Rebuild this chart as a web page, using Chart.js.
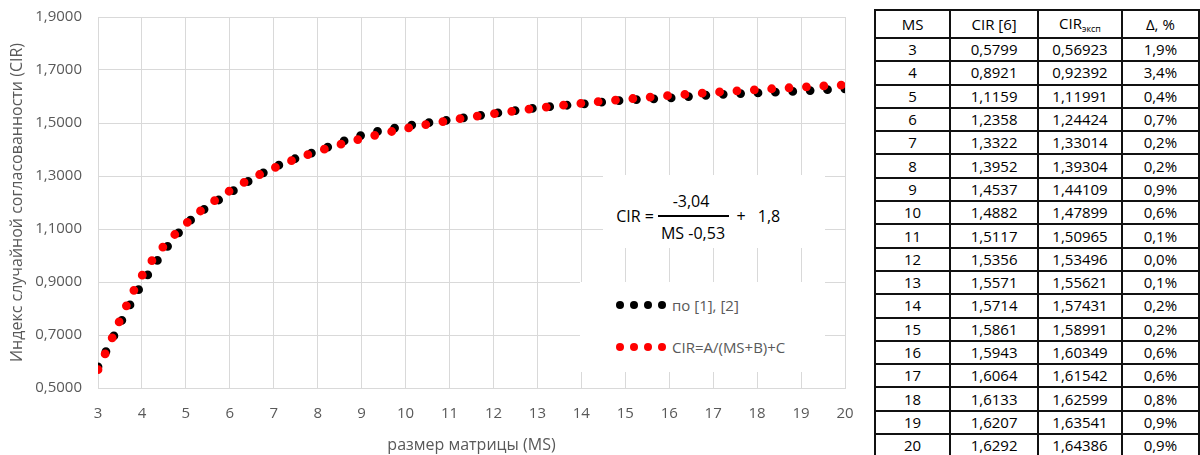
<!DOCTYPE html>
<html>
<head>
<meta charset="utf-8">
<script src="https://cdn.jsdelivr.net/npm/chart.js@4"></script>
<style>
  html, body { margin: 0; padding: 0; background: #fff; }
  body { width: 1200px; height: 455px; position: relative; overflow: hidden; font-family: "Open Sans", sans-serif; }
  #wrap { position: absolute; left: 0; top: 0; width: 860px; height: 455px; }
  .box { position: absolute; background: #fff; }
  .t { position: absolute; white-space: nowrap; line-height: 1; }
  .f { color: #000; font-size: 16px; transform: translate(-50%, -50%); }
  .lg { color: #595959; font-size: 15px; transform: translateY(-50%); }
  .dot { position: absolute; width: 8px; height: 8px; border-radius: 50%; transform: translate(-50%, -50%); }
  table { position: absolute; left: 874px; top: 9px; border-collapse: collapse; table-layout: fixed; font-family: "Open Sans", sans-serif; font-size: 15px; color: #000; }
  td, th { border: 2px solid #111; padding: 0; text-align: center; font-weight: normal; line-height: 1; }
  th { height: 26px; }
  td { height: 21.3px; }
  sub { font-size: 9px; vertical-align: -3px; }
</style>
</head>
<body>
<div id="wrap"><canvas id="c" width="860" height="455"></canvas></div>

<div class="box" style="left:603px;top:175px;width:222px;height:73px;"></div>
<div class="t f" style="left:635px;top:216px;">CIR =</div>
<div class="t f" style="left:691px;top:201px;">-3,04</div>
<div style="position:absolute;left:658px;top:215px;width:71px;height:1.5px;background:#000;"></div>
<div class="t f" style="left:693px;top:233px;">MS -0,53</div>
<div class="t f" style="left:741px;top:216px;">+</div>
<div class="t f" style="left:769px;top:216px;">1,8</div>

<div class="box" style="left:580px;top:282px;width:245px;height:90px;"></div>
<div id="legend"></div>

<table id="tbl">
  <colgroup><col style="width:76px"><col style="width:89px"><col style="width:84px"><col style="width:78px"></colgroup>
</table>

<script>
// ---- data ----
const msValues = [3, 4, 5, 6, 7, 8, 9, 10, 11, 12, 13, 14, 15, 16, 17, 18, 19, 20];
const cirRef = [0.5799, 0.8921, 1.1159, 1.2358, 1.3322, 1.3952, 1.4537, 1.4882, 1.5117, 1.5356, 1.5571, 1.5714, 1.5861, 1.5943, 1.6064, 1.6133, 1.6207, 1.6292];
const cirExp = [0.56923, 0.92392, 1.11991, 1.24424, 1.33014, 1.39304, 1.44109, 1.47899, 1.50965, 1.53496, 1.55621, 1.57431, 1.58991, 1.60349, 1.61542, 1.62599, 1.63541, 1.64386];
const deltaPct = ['1,9%', '3,4%', '0,4%', '0,7%', '0,2%', '0,2%', '0,9%', '0,6%', '0,1%', '0,0%', '0,1%', '0,2%', '0,2%', '0,6%', '0,6%', '0,8%', '0,9%', '0,9%'];
const seriesNames = ['по [1], [2]', 'CIR=A/(MS+B)+C'];
const seriesColors = ['#000000', '#ff0000'];
const headers = ['MS', 'CIR [6]', 'CIR<sub>эксп</sub>', 'Δ, %'];
const xTitle = 'размер матрицы (MS)';
const yTitle = 'Индекс случайной согласованности (CIR)';

const comma = (v, d) => v.toFixed(d).replace('.', ',');

// ---- table ----
const tbl = document.getElementById('tbl');
let hr = '<tr>' + headers.map(h => '<th>' + h + '</th>').join('') + '</tr>';
let body = msValues.map((m, i) => '<tr><td>' + m + '</td><td>' + comma(cirRef[i], 4) + '</td><td>' + comma(cirExp[i], 5) + '</td><td>' + deltaPct[i] + '</td></tr>').join('');
tbl.insertAdjacentHTML('beforeend', hr + body);

// ---- legend ----
const lg = document.getElementById('legend');
const legendY = [305, 347];
seriesNames.forEach((name, k) => {
  for (let j = 0; j < 4; j++) {
    const d = document.createElement('div');
    d.className = 'dot';
    d.style.left = (620 + j * 14) + 'px';
    d.style.top = legendY[k] + 'px';
    d.style.background = seriesColors[k];
    lg.appendChild(d);
  }
  const t = document.createElement('div');
  t.className = 't lg';
  t.style.left = '672px';
  t.style.top = legendY[k] + 'px';
  t.textContent = name;
  lg.appendChild(t);
});

// ---- chart ----
const gridColor = '#d9d9d9';
const tickFont = { family: 'Open Sans', size: 15 };
const dotStyle = {
  borderWidth: 8.8,
  borderDash: [0, 17.4],
  borderCapStyle: 'round',
  pointRadius: 0,
  pointHoverRadius: 0,
  fill: false,
  cubicInterpolationMode: 'monotone',
  clip: 0
};
new Chart(document.getElementById('c'), {
  type: 'line',
  data: {
    datasets: [
      Object.assign({ label: seriesNames[1], data: msValues.map((m, i) => ({ x: m, y: cirExp[i] })), borderColor: seriesColors[1] }, dotStyle),
      Object.assign({ label: seriesNames[0], data: msValues.map((m, i) => ({ x: m, y: cirRef[i] })), borderColor: seriesColors[0] }, dotStyle)
    ]
  },
  options: {
    responsive: false,
    animation: false,
    events: [],
    layout: { padding: { top: 17, right: 15, left: 0, bottom: 0 } },
    plugins: { legend: { display: false }, tooltip: { enabled: false } },
    scales: {
      x: {
        type: 'linear', min: 3, max: 20,
        afterFit: s => { s.height = 67; s.paddingLeft = 0; s.paddingRight = 0; },
        grid: { color: gridColor, drawTicks: false },
        border: { color: gridColor },
        ticks: { stepSize: 1, padding: 17, color: '#595959', font: tickFont, maxRotation: 0 },
        title: { display: true, text: xTitle, color: '#595959', font: { family: 'Open Sans', size: 16 }, padding: { top: 0, bottom: 0 } }
      },
      y: {
        type: 'linear', min: 0.5, max: 1.9,
        afterFit: s => { s.width = 98; s.paddingTop = 0; s.paddingBottom = 0; },
        grid: { color: gridColor, drawTicks: false },
        border: { color: gridColor },
        ticks: { stepSize: 0.2, padding: 16, color: '#595959', font: tickFont, callback: v => comma(v, 4) },
        title: { display: true, text: yTitle, color: '#595959', font: { family: 'Open Sans', size: 16 }, padding: { top: 8, bottom: 0 } }
      }
    }
  }
});
</script>
</body>
</html>
